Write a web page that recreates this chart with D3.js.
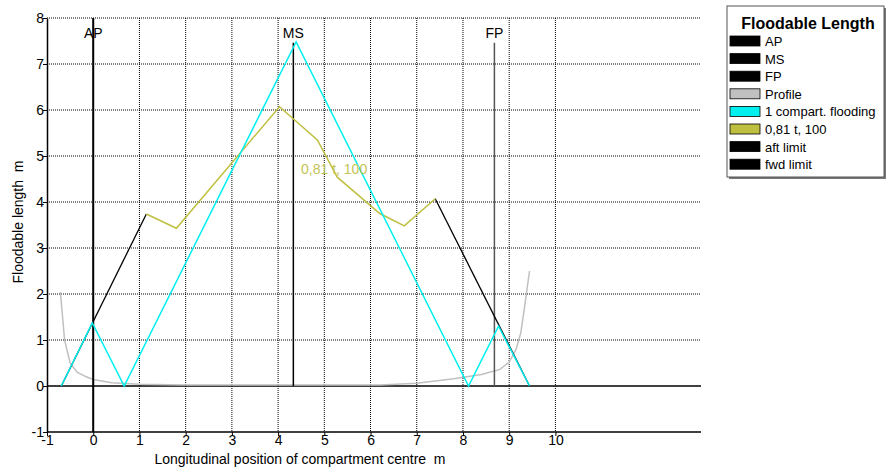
<!DOCTYPE html>
<html>
<head>
<meta charset="utf-8">
<script src="https://cdn.jsdelivr.net/npm/d3@7"></script>
<style>
	body { margin: 0; background: #fff; }
	text { font-family: "Liberation Sans", Arial, sans-serif; white-space: pre; }
	.grid line { stroke: #000; stroke-width: 1; stroke-dasharray: 1,1; }
</style>
</head>
<body>
<div id="chart"></div>
<script>
// tick labels shown on the axes
let xTicks = [-1, 0, 1, 2, 3, 4, 5, 6, 7, 8, 9, 10];
let yTicks = [-1, 0, 1, 2, 3, 4, 5, 6, 7, 8];

// ship marks: AP, MS, FP
let markNames = ['AP', 'MS', 'FP'];
let markX = [0, 4.33, 8.68];
let markBottom = [-1, 0, 0];
let markTop = [8, 7.46, 7.46];

// hull profile
let profile = [
	[-0.71, 2.04], [-0.62, 1.0], [-0.5, 0.5], [-0.35, 0.3], [-0.15, 0.2], [0, 0.14],
	[0.4, 0.07], [1, 0.04], [2, 0.02], [6.2, 0.02], [7, 0.06], [7.8, 0.16],
	[8.4, 0.25], [8.8, 0.36], [9.0, 0.52], [9.15, 0.8], [9.25, 1.15], [9.33, 1.7], [9.44, 2.5]
];

// 1 compartment flooding
let oneComp = [
	[-0.69, 0], [-0.02, 1.37], [0.67, 0], [4.39, 7.48], [8.12, 0], [8.77, 1.3], [9.44, 0]
];

// floodable length curve 0,81 t, 100
let floodCurve = [
	[1.15, 3.74], [1.8, 3.43], [4.03, 6.07], [4.85, 5.35], [5.28, 4.54],
	[6.2, 3.75], [6.73, 3.48], [7.4, 4.07]
];

// limits
let aftLimit = [[-0.69, 0], [1.15, 3.74]];
let fwdLimit = [[7.4, 4.07], [9.44, 0]];

// legend entries
let legendNames = ['AP', 'MS', 'FP', 'Profile', '1 compart. flooding', '0,81 t, 100', 'aft limit', 'fwd limit'];
let legendColors = ['#000', '#000', '#000', '#c0c0c0', '#00f0f0', '#bfbf40', '#000', '#000'];

let width = 889;
let height = 470;
let plotLeft = 47, plotRight = 701, plotTop = 18, plotBottom = 432;

let xScale = d3.scaleLinear()
		.domain([-1, 13.15])
		.range([plotLeft, plotRight]);

let yScale = d3.scaleLinear()
		.domain([-1, 8])
		.range([plotBottom, plotTop]);

let line = d3.line()
		.x(d => xScale(d[0]))
		.y(d => yScale(d[1]));

let svg = d3.select('#chart')
		.append('svg')
		.attr('width', width)
		.attr('height', height);

// vertical gridlines
svg.append('g').classed('grid', true)
		.selectAll('line')
		.data(xTicks.slice(1))
		.enter()
		.append('line')
		.attr('x1', d => xScale(d)).attr('x2', d => xScale(d))
		.attr('y1', plotTop).attr('y2', plotBottom);

// horizontal gridlines
svg.append('g').classed('grid', true)
		.selectAll('line')
		.data(yTicks.filter(d => d > 0))
		.enter()
		.append('line')
		.attr('x1', plotLeft).attr('x2', plotRight)
		.attr('y1', d => yScale(d)).attr('y2', d => yScale(d));

// zero line
svg.append('line')
		.attr('x1', plotLeft).attr('x2', plotRight)
		.attr('y1', yScale(0)).attr('y2', yScale(0))
		.attr('stroke', '#000').attr('stroke-width', 1.5);

// axes (plain hyphen for negatives)
let xAxis = svg.append('g')
		.attr('transform', 'translate(0,' + plotBottom + ')')
		.call(d3.axisBottom(xScale).tickValues(xTicks).tickSize(4).tickSizeOuter(0).tickFormat(d => String(d)));
xAxis.select('.domain').attr('d', 'M' + plotLeft + ',0H' + plotRight).attr('stroke-width', 1.5);
xAxis.selectAll('text').attr('font-size', 14).attr('y', 3).attr('fill', '#000');

let yAxis = svg.append('g')
		.attr('transform', 'translate(' + plotLeft + ',0)')
		.call(d3.axisLeft(yScale).tickValues(yTicks).tickSize(4).tickSizeOuter(0).tickFormat(d => String(d)));
yAxis.select('.domain').attr('stroke-width', 1.5);
yAxis.selectAll('text').attr('font-size', 14).attr('x', -3).attr('fill', '#000');

// axis titles
svg.append('text')
		.attr('x', 300).attr('y', 464)
		.attr('text-anchor', 'middle')
		.attr('font-size', 14)
		.text('Longitudinal position of compartment centre  m');

svg.append('text')
		.attr('transform', 'translate(23,222) rotate(-90)')
		.attr('text-anchor', 'middle')
		.attr('font-size', 14)
		.text('Floodable length  m');

// profile
svg.append('path')
		.attr('d', line(profile))
		.attr('fill', 'none')
		.attr('stroke', '#c0c0c0')
		.attr('stroke-width', 1.5);

// AP / MS / FP marks
svg.append('g').selectAll('line')
		.data(markNames)
		.enter()
		.append('line')
		.attr('x1', (d, i) => xScale(markX[i])).attr('x2', (d, i) => xScale(markX[i]))
		.attr('y1', (d, i) => yScale(markBottom[i])).attr('y2', (d, i) => yScale(markTop[i]))
		.attr('stroke', (d, i) => i === 2 ? '#555' : '#000')
		.attr('stroke-width', (d, i) => i === 0 ? 2 : 1.5);

svg.append('g').selectAll('text')
		.data(markNames)
		.enter()
		.append('text')
		.attr('x', (d, i) => xScale(markX[i]))
		.attr('y', 38)
		.attr('text-anchor', 'middle')
		.attr('font-size', 14)
		.text(d => d);

// limits
[aftLimit, fwdLimit].forEach(function(seg) {
	svg.append('path')
			.attr('d', line(seg))
			.attr('fill', 'none')
			.attr('stroke', '#000')
			.attr('stroke-width', 1.3);
});

// floodable length curve
svg.append('path')
		.attr('d', line(floodCurve))
		.attr('fill', 'none')
		.attr('stroke', '#bfbf40')
		.attr('stroke-width', 1.5);

// 1 compartment flooding
svg.append('path')
		.attr('d', line(oneComp))
		.attr('fill', 'none')
		.attr('stroke', '#00f0f0')
		.attr('stroke-width', 1.5);

svg.append('text')
		.attr('x', 301).attr('y', 174)
		.attr('font-size', 14)
		.attr('fill', '#c4c455')
		.text('0,81 t, 100');

// legend
let legend = svg.append('g');
legend.append('rect')
		.attr('x', 729).attr('y', 8)
		.attr('width', 157).attr('height', 171)
		.attr('fill', '#777');
legend.append('rect')
		.attr('x', 727).attr('y', 6)
		.attr('width', 157).attr('height', 171)
		.attr('fill', '#fff')
		.attr('stroke', '#555');

legend.append('text')
		.attr('x', 808).attr('y', 29)
		.attr('text-anchor', 'middle')
		.attr('font-size', 16)
		.attr('font-weight', 'bold')
		.text('Floodable Length');

let rows = legend.selectAll('.row')
		.data(legendNames)
		.enter()
		.append('g')
		.classed('row', true)
		.attr('transform', (d, i) => 'translate(0,' + (41 + i * 17.6) + ')');

rows.append('rect')
		.attr('x', 730).attr('y', -5)
		.attr('width', 30).attr('height', 10)
		.attr('fill', (d, i) => legendColors[i])
		.attr('stroke', '#000')
		.attr('stroke-width', 0.8);

rows.append('text')
		.attr('x', 765).attr('y', 5)
		.attr('font-size', 13)
		.text(d => d);
</script>
</body>
</html>
